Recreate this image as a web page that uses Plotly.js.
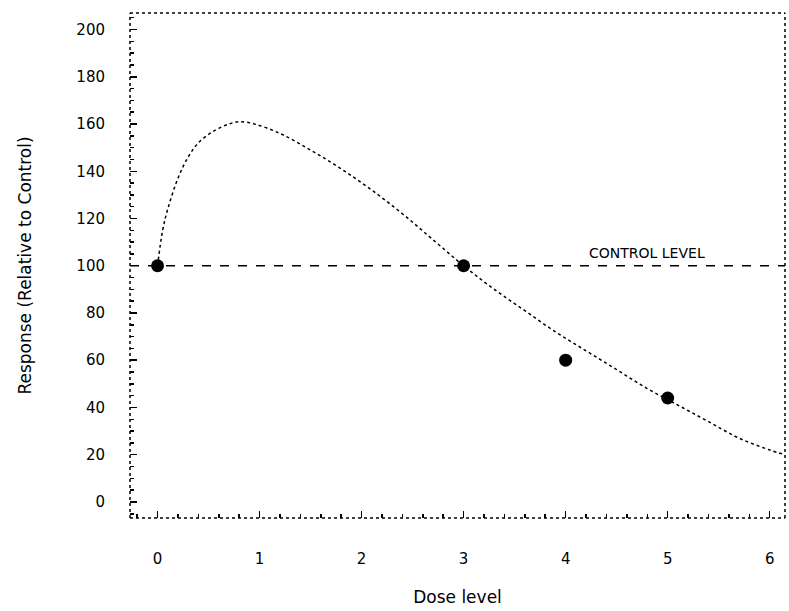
<!DOCTYPE html>
<html>
<head>
<meta charset="utf-8">
<script src="https://cdn.plot.ly/plotly-3.0.1.min.js"></script>
<style>html,body{margin:0;padding:0;background:#fff;}#chart{width:789px;height:611px;}</style>
</head>
<body>
<div id="chart"></div>
<script>
// Observed data points
var doseLevels = [0, 3, 4, 5];
var responses = [100, 100, 60, 44];

// Fitted dose-response curve
var curveDose = [0, 0.05, 0.1, 0.2, 0.3, 0.4, 0.55, 0.7, 0.8, 0.95, 1.2, 1.5, 1.8, 2.1, 2.4, 2.7, 3.0, 3.3, 3.6, 3.9, 4.2, 4.5, 4.8, 5.1, 5.4, 5.7, 6.0, 6.15];
var curveResponse = [100, 115, 124, 137, 146, 152, 157, 160, 161, 160, 156, 149, 141, 132, 122, 111, 100, 90, 81, 72, 64, 56, 48, 41, 34, 27, 22, 20];

// Control level
var controlLevel = [100];
var controlLabel = ["CONTROL LEVEL"];

// Tick labels
var xTicks = [0, 1, 2, 3, 4, 5, 6];
var yTicks = [0, 20, 40, 60, 80, 100, 120, 140, 160, 180, 200];

var fam = "DejaVu Sans, Arial, sans-serif";
var tickFont = {family: fam, size: 15, color: "#000"};
var titleFont = {family: fam, size: 17, color: "#000"};

var traces = [
  {
    x: curveDose, y: curveResponse, mode: "lines", type: "scatter",
    line: {color: "#000", width: 1.5, dash: "dot", shape: "spline"},
    hoverinfo: "skip", showlegend: false
  },
  {
    x: doseLevels, y: responses, mode: "markers", type: "scatter",
    marker: {color: "#000", size: 13, symbol: "circle"},
    showlegend: false
  }
];

var layout = {
  width: 789, height: 611,
  margin: {l: 130, r: 4, t: 13, b: 93},
  paper_bgcolor: "#fff", plot_bgcolor: "#fff",
  font: tickFont,
  showlegend: false,
  xaxis: {
    range: [-0.27, 6.15],
    tickvals: xTicks, ticktext: xTicks.map(String),
    ticks: "inside", ticklen: 7, tickwidth: 1.5, tickcolor: "#000",
    minor: {dtick: 0.2, tick0: 0, ticks: "inside", ticklen: 4, tickcolor: "#000", tickwidth: 1.5, showgrid: false},
    showgrid: false, zeroline: false, showline: false,
    ticklabelstandoff: 30,
    tickfont: tickFont,
    title: {text: "Dose level", font: titleFont, standoff: 24}
  },
  yaxis: {
    range: [-6.8, 207],
    tickvals: yTicks, ticktext: yTicks.map(String),
    ticks: "inside", ticklen: 7, tickwidth: 1.5, tickcolor: "#000",
    minor: {dtick: 5, tick0: 0, ticks: "inside", ticklen: 4, tickcolor: "#000", tickwidth: 1.5, showgrid: false},
    showgrid: false, zeroline: false, showline: false,
    ticklabelstandoff: 24,
    tickfont: tickFont,
    title: {text: "Response (Relative to Control)", font: titleFont, standoff: 40}
  },
  shapes: [
    {type: "line", xref: "paper", yref: "y", x0: 0, x1: 1, y0: controlLevel[0], y1: controlLevel[0],
     line: {color: "#000", width: 1.5, dash: "dash"}},
    {type: "line", xref: "paper", yref: "paper", x0: 0, x1: 0, y0: 0, y1: 1, line: {color: "#000", width: 1.5, dash: "dot"}},
    {type: "line", xref: "paper", yref: "paper", x0: 0, x1: 1, y0: 0, y1: 0, line: {color: "#000", width: 1.5, dash: "dot"}},
    {type: "line", xref: "paper", yref: "paper", x0: 0, x1: 1, y0: 1, y1: 1, line: {color: "#000", width: 1.5, dash: "dot"}},
    {type: "line", xref: "paper", yref: "paper", x0: 1, x1: 1, y0: 0, y1: 1, line: {color: "#000", width: 1.5, dash: "dot"}}
  ],
  annotations: [
    {x: 4.8, y: controlLevel[0], xref: "x", yref: "y", text: controlLabel[0], showarrow: false,
     yanchor: "bottom", yshift: 3, font: {family: fam, size: 14, color: "#000"}}
  ]
};

Plotly.newPlot("chart", traces, layout, {displayModeBar: false, staticPlot: true});
</script>
</body>
</html>
